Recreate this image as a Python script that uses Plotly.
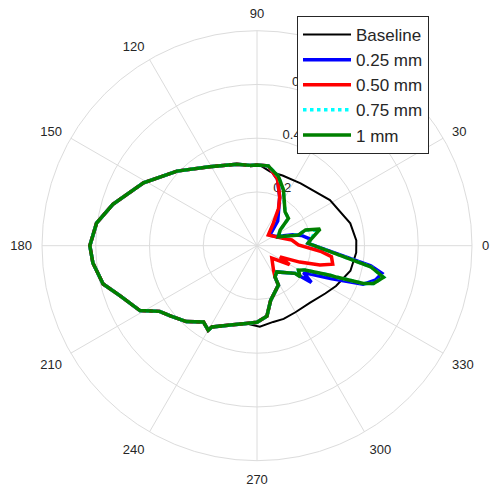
import plotly.graph_objects as go

# ---------------- data (degrees, linear magnitude) ----------------
# shared left half (95 deg -> 262 deg), identical for all series
left_theta = [95, 104, 121, 137, 151, 164, 172, 180, 186, 194, 200, 209, 214, 219, 227, 235, 240, 241, 253, 262]
left_r = [0.300, 0.312, 0.343, 0.407, 0.483, 0.558, 0.603, 0.622, 0.614, 0.590, 0.543, 0.498, 0.437, 0.415, 0.386, 0.347, 0.363, 0.346, 0.308, 0.292]

# Baseline right half (272 deg -> 360 -> 90 deg)
base_right_theta = [272, 282, 290, 300, 313, 325, 333, 345, 356, 363, 373.5, 392, 415, 430, 440, 448]
base_right_r = [0.302, 0.290, 0.290, 0.286, 0.290, 0.310, 0.330, 0.360, 0.370, 0.370, 0.357, 0.320, 0.283, 0.278, 0.280, 0.300]

# 0.25 mm right half path
b25_theta = [270, 278, 284, 298.5, 300, 307, 324, 326, 330, 336, 340, 344, 347.5, 350, 362.7, 367, 373, 377, 385, 400, 410, 425, 433, 442, 450]
b25_r = [0.285, 0.265, 0.210, 0.167, 0.134, 0.122, 0.175, 0.244, 0.200, 0.300, 0.420, 0.460, 0.476, 0.430, 0.190, 0.200, 0.170, 0.140, 0.080, 0.063, 0.120, 0.200, 0.260, 0.300, 0.300]

# 0.50 mm right half path
b50_theta = [270, 278, 284, 298.5, 300, 304, 320, 330, 334, 339, 343, 346.3, 351.6, 355, 361, 369.3, 377, 403.4, 414, 420, 425, 433, 442, 450]
b50_r = [0.285, 0.265, 0.210, 0.167, 0.134, 0.110, 0.072, 0.140, 0.095, 0.170, 0.245, 0.290, 0.280, 0.237, 0.154, 0.131, 0.096, 0.058, 0.103, 0.160, 0.200, 0.260, 0.300, 0.300]

# 0.75 mm right half path
b75_theta = [270, 278, 284, 298.5, 300, 307, 324, 324.5, 329.5, 333, 338, 338.5, 340.5, 342, 346, 349.5, 362.7, 367.7, 374.8, 378, 374.5, 383, 394, 401, 410.5, 424.7, 432.8, 442, 450]
b75_r = [0.285, 0.265, 0.210, 0.167, 0.134, 0.122, 0.175, 0.190, 0.179, 0.200, 0.293, 0.321, 0.420, 0.456, 0.485, 0.430, 0.190, 0.206, 0.225, 0.190, 0.160, 0.086, 0.104, 0.155, 0.164, 0.230, 0.270, 0.300, 0.300]

# 1 mm right half path
b100_theta = [270, 278, 284, 298.5, 300, 307, 324, 324.2, 329.5, 333, 338, 338.5, 340.5, 342, 346, 349.5, 362.7, 367.7, 374.8, 378, 374.5, 383, 394, 401, 410.5, 424.7, 432.8, 442, 450]
b100_r = [0.285, 0.265, 0.210, 0.167, 0.134, 0.122, 0.175, 0.198, 0.179, 0.200, 0.293, 0.321, 0.420, 0.456, 0.485, 0.430, 0.190, 0.206, 0.243, 0.190, 0.160, 0.086, 0.104, 0.155, 0.164, 0.230, 0.270, 0.300, 0.300]

series_names = ["Baseline", "0.25 mm", "0.50 mm", "0.75 mm", "1 mm"]
series_colors = ["#000000", "#0000ff", "#ff0000", "#00ffff", "#008000"]

angle_ticks = [0, 30, 60, 90, 120, 150, 180, 210, 240, 270, 300, 330]
radial_ticks = [0.2, 0.4, 0.6, 0.8]
radial_ticklabels = ["0.2", "0.4", "0.6", "0.8"]

# ---------------- figure ----------------
paths = [
    (left_theta + base_right_theta + [left_theta[0]], left_r + base_right_r + [left_r[0]]),
    (left_theta + b25_theta + [left_theta[0]], left_r + b25_r + [left_r[0]]),
    (left_theta + b50_theta + [left_theta[0]], left_r + b50_r + [left_r[0]]),
    (left_theta + b75_theta + [left_theta[0]], left_r + b75_r + [left_r[0]]),
    (left_theta + b100_theta + [left_theta[0]], left_r + b100_r + [left_r[0]]),
]
widths = [2, 3.5, 3.5, 3.5, 3.5]
dashes = ["solid", "solid", "solid", "dot", "solid"]

fig = go.Figure()
for (th, rr), name, col, w, d in zip(paths, series_names, series_colors, widths, dashes):
    fig.add_trace(go.Scatterpolar(
        theta=th, r=rr, mode="lines", name=name,
        line=dict(color=col, width=w, dash=d),
    ))

W, H = 496, 486
cx, cy, R = 257, 245.7, 215
font = "Liberation Sans, Arial, Helvetica, sans-serif"

fig.update_layout(
    width=W, height=H,
    margin=dict(l=0, r=0, t=0, b=0),
    paper_bgcolor="white",
    font=dict(family=font, color="#262626"),
    polar=dict(
        domain=dict(x=[(cx - R) / W, (cx + R) / W], y=[(H - cy - R) / H, (H - cy + R) / H]),
        bgcolor="white",
        angularaxis=dict(
            tickmode="array", tickvals=angle_ticks, ticktext=[str(a) for a in angle_ticks],
            rotation=0, direction="counterclockwise",
            showgrid=True, gridcolor="#dcdcdc", gridwidth=1,
            showline=True, linecolor="#dcdcdc", linewidth=1,
            ticks="outside", ticklen=7, tickcolor="rgba(0,0,0,0)",
            tickfont=dict(size=13, color="#262626"),
            layer="below traces",
        ),
        radialaxis=dict(
            range=[0, 0.8], tickmode="array", tickvals=radial_ticks,
            ticktext=[t + "<br> " for t in radial_ticklabels],
            angle=80, tickangle=80, side="clockwise",
            showgrid=True, gridcolor="#dcdcdc", gridwidth=1,
            showline=False, ticks="", tickfont=dict(size=13, color="#262626"),
            layer="below traces",
        ),
    ),
    showlegend=True,
    legend=dict(
        x=297 / W, y=1 - 16 / H, xanchor="left", yanchor="top",
        bgcolor="white", bordercolor="#262626", borderwidth=1,
        font=dict(size=17, color="#262626", family=font),
        itemwidth=48, tracegroupgap=0,
    ),
)

fig.write_html(
    "out.html",
    config={"displayModeBar": False},
    post_script="document.body.style.margin='0px';document.body.style.overflow='hidden';",
)
